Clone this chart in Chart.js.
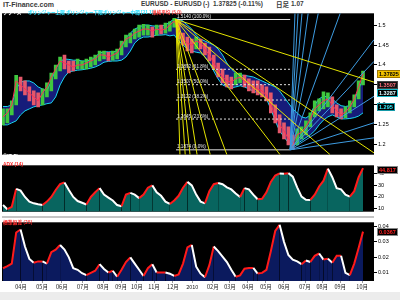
<!DOCTYPE html>
<html>
<head>
<meta charset="utf-8">
<script src="https://cdn.jsdelivr.net/npm/chart.js@4.4.0/dist/chart.umd.min.js"></script>
<style>
  body { margin: 0; background: #fff; width: 400px; height: 300px; overflow: hidden; }
  #wrap { position: relative; width: 400px; height: 300px; }
  canvas { position: absolute; left: 0; }
  .hd { position: absolute; top: 1px; white-space: pre; line-height: 1; font-family: "Liberation Sans", "DejaVu Sans", sans-serif; font-weight: bold; color: #3a3a3a; }
</style>
</head>
<body>
<div id="wrap">
  <div class="hd" style="left:3px;font-size:7px">IT-Finance.com</div>
  <div class="hd" style="left:141px;font-size:6.5px">EURUSD - EURUSD</div>
  <div class="hd" style="left:203px;font-size:6.5px">(-)</div>
  <div class="hd" style="left:213px;font-size:6.5px">1.37825 (-0.11%)</div>
  <div class="hd" style="left:276px;font-size:6.5px;font-family:'Noto Sans CJK JP'">日足</div>
  <div class="hd" style="left:291px;font-size:6.5px">1.07</div>
  <canvas id="priceChart" width="400" height="150" style="top:9px"></canvas>
  <canvas id="adxChart" width="400" height="55" style="top:161px"></canvas>
  <div style="position:absolute;left:2px;top:216px;width:372px;height:2px;background:#c4c4c4"></div>
  <canvas id="stdChart" width="400" height="73" style="top:218px"></canvas>
  <div style="position:absolute;left:0;top:292px;width:400px;height:8px;background:#ececec"></div>
</div>
<script>
// ===== 데이터 (주간, 2009-03 ~ 2010-10) =====
const closes = [
  1.27, 1.28, 1.30, 1.36, 1.35, 1.34, 1.33, 1.32, 1.31, 1.33,
  1.345, 1.37, 1.39, 1.41, 1.405, 1.40, 1.395, 1.40, 1.40, 1.405,
  1.41, 1.415, 1.425, 1.425, 1.42, 1.425, 1.43, 1.45, 1.465, 1.47,
  1.48, 1.485, 1.49, 1.49, 1.485, 1.49, 1.487, 1.49, 1.50, 1.51,
  1.49, 1.465, 1.455, 1.45, 1.46, 1.455, 1.44, 1.425, 1.405, 1.385,
  1.37, 1.36, 1.357, 1.366, 1.369, 1.36, 1.352, 1.345, 1.34, 1.335,
  1.325, 1.30, 1.274, 1.25, 1.235, 1.215, 1.205, 1.225, 1.232, 1.245,
  1.265, 1.29, 1.30, 1.31, 1.315, 1.30, 1.285, 1.275, 1.282, 1.295,
  1.315, 1.345, 1.378
];
const highs = [
  1.29, 1.29, 1.31, 1.374, 1.37, 1.36, 1.345, 1.335, 1.33, 1.34,
  1.355, 1.38, 1.40, 1.42, 1.425, 1.41, 1.41, 1.415, 1.41, 1.415,
  1.42, 1.425, 1.435, 1.435, 1.432, 1.435, 1.44, 1.46, 1.475, 1.48,
  1.49, 1.50, 1.502, 1.50, 1.495, 1.50, 1.50, 1.505, 1.508, 1.517,
  1.51, 1.48, 1.47, 1.465, 1.47, 1.465, 1.455, 1.445, 1.425, 1.405,
  1.39, 1.375, 1.37, 1.38, 1.38, 1.375, 1.365, 1.36, 1.36, 1.35,
  1.345, 1.33, 1.30, 1.275, 1.255, 1.245, 1.225, 1.24, 1.245, 1.26,
  1.28, 1.31, 1.315, 1.333, 1.33, 1.32, 1.30, 1.29, 1.295, 1.31,
  1.325, 1.36, 1.385
];
const lows = [
  1.25, 1.255, 1.275, 1.30, 1.335, 1.325, 1.31, 1.30, 1.295, 1.30,
  1.32, 1.335, 1.365, 1.385, 1.39, 1.38, 1.385, 1.39, 1.39, 1.39,
  1.395, 1.40, 1.41, 1.415, 1.41, 1.412, 1.415, 1.425, 1.445, 1.455,
  1.465, 1.47, 1.475, 1.475, 1.47, 1.475, 1.478, 1.48, 1.485, 1.495,
  1.465, 1.45, 1.435, 1.43, 1.44, 1.44, 1.425, 1.41, 1.39, 1.37,
  1.355, 1.345, 1.34, 1.35, 1.355, 1.345, 1.335, 1.33, 1.325, 1.32,
  1.31, 1.28, 1.255, 1.23, 1.215, 1.20, 1.188, 1.20, 1.215, 1.225,
  1.245, 1.27, 1.285, 1.29, 1.295, 1.28, 1.27, 1.265, 1.268, 1.28,
  1.295, 1.315, 1.35
];
const bbUpper = [
  1.296, 1.296, 1.30, 1.34, 1.357, 1.36, 1.36, 1.355, 1.345, 1.34,
  1.335, 1.36, 1.39, 1.409, 1.415, 1.414, 1.412, 1.412, 1.41, 1.41,
  1.412, 1.42, 1.43, 1.433, 1.433, 1.433, 1.435, 1.445, 1.468, 1.48,
  1.49, 1.495, 1.50, 1.50, 1.498, 1.497, 1.498, 1.50, 1.508, 1.515,
  1.515, 1.51, 1.50, 1.49, 1.475, 1.465, 1.46, 1.455, 1.45, 1.44,
  1.425, 1.405, 1.39, 1.38, 1.375, 1.374, 1.372, 1.37, 1.365, 1.36,
  1.355, 1.35, 1.345, 1.335, 1.32, 1.305, 1.29, 1.28, 1.27, 1.267,
  1.275, 1.30, 1.315, 1.322, 1.32, 1.315, 1.305, 1.298, 1.296, 1.298,
  1.31, 1.34, 1.365
];
const bbLower = [
  1.25, 1.25, 1.255, 1.26, 1.275, 1.285, 1.29, 1.295, 1.298, 1.30,
  1.303, 1.305, 1.32, 1.35, 1.37, 1.383, 1.385, 1.387, 1.388, 1.39,
  1.392, 1.395, 1.40, 1.407, 1.409, 1.41, 1.41, 1.412, 1.42, 1.435,
  1.455, 1.465, 1.47, 1.47, 1.472, 1.475, 1.475, 1.476, 1.473, 1.475,
  1.46, 1.45, 1.44, 1.435, 1.432, 1.43, 1.42, 1.405, 1.385, 1.365,
  1.35, 1.345, 1.343, 1.345, 1.348, 1.345, 1.34, 1.335, 1.33, 1.325,
  1.315, 1.29, 1.26, 1.235, 1.22, 1.205, 1.20, 1.203, 1.21, 1.218,
  1.225, 1.235, 1.25, 1.262, 1.27, 1.275, 1.27, 1.265, 1.265, 1.266,
  1.268, 1.272, 1.28
];
const adxValues = [
  13, 9.5, 11.5, 27, 25.5, 20, 16, 14.5, 13.7, 13,
  16, 20, 26, 31, 32.5, 26, 20, 16.5, 15, 13.5,
  20, 24, 27.6, 22, 19.5, 17, 13, 12, 22, 23.5,
  22, 19, 22, 28, 30, 24, 21, 16, 14, 17,
  21, 28, 33, 30, 22, 16, 14.5, 25, 31, 32,
  31, 28.3, 26.5, 23, 20, 27.6, 26.5, 22, 18, 18.5,
  24, 33, 38.5, 40.3, 40, 40.5, 37.5, 28.3, 20.3, 17.5,
  17.4, 22, 29, 34, 44.4, 37, 27.6, 26.5, 22, 20.3,
  25, 37, 44.8
];
const stdValues = [
  0.013, 0.0144, 0.016, 0.036, 0.038, 0.027, 0.019, 0.0165, 0.0174, 0.0174,
  0.016, 0.0234, 0.025, 0.028, 0.025, 0.02, 0.013, 0.012, 0.0098, 0.0086,
  0.01, 0.0114, 0.0156, 0.0125, 0.0102, 0.0114, 0.0075, 0.012, 0.017, 0.02,
  0.016, 0.012, 0.008, 0.013, 0.0156, 0.0102, 0.0102, 0.0102, 0.0095, 0.008,
  0.009, 0.016, 0.0264, 0.028, 0.014, 0.0095, 0.0072, 0.015, 0.027, 0.024,
  0.0205, 0.017, 0.012, 0.0075, 0.0084, 0.0127, 0.0132, 0.0132, 0.0096, 0.01,
  0.012, 0.024, 0.037, 0.041, 0.03, 0.0215, 0.0185, 0.0174, 0.0156, 0.018,
  0.017, 0.021, 0.0225, 0.0186, 0.0192, 0.0165, 0.021, 0.021, 0.01, 0.0085,
  0.016, 0.026, 0.0366
];

// x축 월 라벨 (주 단위 위치)
const monthTicks = [4.1, 8.9, 13.4, 18.2, 22.8, 26.9, 30.5, 34.4, 38.7, 43.1, 47.8, 51.7, 55.8, 59.9, 64.0, 68.8, 72.7, 76.8, 81.8];
const monthLabels = ['04月', '05月', '06月', '07月', '08月', '09月', '10月', '11月', '12月', '2010', '02月', '03月', '04月', '05月', '06月', '07月', '08月', '09月', '10月'];

// y축 눈금
const priceTicks = [1.2, 1.25, 1.3, 1.35, 1.4, 1.45, 1.5];
const adxTicks = [10, 20, 30, 40];
const stdTicks = [0.01, 0.02, 0.03, 0.04];

// 피보나치 되돌림
const fibLevels = [1.5140, 1.3892, 1.3507, 1.3122, 1.2645, 1.1874];
const fibPct = ['100.0%', '61.8%', '50.0%', '38.2%', '23.6%', '0.0%'];
const fibFromWeek = 39.4;
const fibToWeek = 65.4;

// 간 팬 (고점 / 저점에서 뻗는 선의 끝점: [주, 가격])
const yellowFanEnds = [[40.3, 1.1752], [41.5, 1.1752], [42.6, 1.1752], [44.2, 1.1752], [47.2, 1.1752],
  [51.0, 1.1752], [63.1, 1.1752], [74.5, 1.1752], [84.5, 1.1797], [84.5, 1.357]];
const blueFanEnds = [[66.5, 1.5295], [67.2, 1.5295], [68.1, 1.5295], [69.5, 1.5295], [71.8, 1.5295],
  [76.8, 1.5295], [84.5, 1.4634], [84.5, 1.409], [84.5, 1.3215], [84.5, 1.2553], [84.5, 1.2175]];

// 오른쪽 현재값 태그
const priceTagValues = [1.37825, 1.3507, 1.3287, 1.295];
const priceTagTexts = ['1.37825', '1.3507', '1.3287', '1.295'];
const adxTagValue = 44.817;
const stdTagValue = 0.0367;

// ===== 공통 설정 =====
const X_MIN = -0.23, X_MAX = 84.5;
const AXIS_FONT = '"Liberation Sans", "DejaVu Sans", sans-serif';
const JP_FONT = '"Noto Sans CJK JP", sans-serif';

// 차트 영역 검정 배경
const blackArea = {
  id: 'blackArea',
  beforeDraw(chart) {
    const { ctx, chartArea: a } = chart;
    ctx.save();
    ctx.fillStyle = '#000';
    ctx.fillRect(a.left, a.top, a.right - a.left, a.bottom - a.top);
    ctx.restore();
  }
};

// 패널 안의 글자 (범례 등)
const panelText = {
  id: 'panelText',
  afterDraw(chart, args, opts) {
    const ctx = chart.ctx;
    (opts.items || []).forEach(t => {
      ctx.save();
      ctx.font = t.font;
      ctx.fillStyle = t.color;
      ctx.textBaseline = 'middle';
      ctx.fillText(t.text, t.x, t.y);
      ctx.restore();
    });
  }
};

// 오른쪽 값 태그
const valueTags = {
  id: 'valueTags',
  afterDraw(chart, args, opts) {
    const items = opts.items || [];
    const { ctx, chartArea } = chart;
    const yScale = chart.scales.y;
    ctx.save();
    ctx.font = 'bold 5.5px ' + AXIS_FONT;
    ctx.textBaseline = 'middle';
    items.forEach(t => {
      const py = Math.round(yScale.getPixelForValue(t.value) + t.shift);
      const w = Math.ceil(ctx.measureText(t.text).width) + 4;
      const x0 = chartArea.right + 3;
      ctx.fillStyle = t.bg;
      ctx.fillRect(x0, py - 4, w, 8);
      ctx.strokeStyle = t.border;
      ctx.lineWidth = 1;
      ctx.strokeRect(x0 + 0.5, py - 3.5, w - 1, 7);
      ctx.fillStyle = t.fg;
      ctx.fillText(t.text, x0 + 2, py + 0.5);
    });
    ctx.restore();
  }
};

// 피보나치 라벨
const fibLabels = {
  id: 'fibLabels',
  afterDatasetsDraw(chart) {
    const { ctx } = chart;
    const xs = chart.scales.x, ys = chart.scales.y;
    ctx.save();
    ctx.font = '4.6px ' + AXIS_FONT;
    ctx.fillStyle = '#e8e8e8';
    ctx.textBaseline = 'bottom';
    fibLevels.forEach((lv, i) => {
      ctx.fillText(lv.toFixed(4) + ' (' + fibPct[i] + ')', xs.getPixelForValue(fibFromWeek) + 1, ys.getPixelForValue(lv) - 0.5);
    });
    ctx.restore();
  }
};

function xScale(show) {
  const s = {
    type: 'linear', min: X_MIN, max: X_MAX, offset: false, display: show,
    grid: { display: show, drawOnChartArea: false, drawTicks: true, tickLength: 2, color: '#999' },
    border: { display: false }
  };
  if (show) {
    s.afterBuildTicks = sc => { sc.ticks = monthTicks.map(v => ({ value: v })); };
    s.afterFit = sc => { sc.height = 10; };
    s.ticks = {
      autoSkip: false, maxRotation: 0, padding: 1, color: '#222',
      font: { size: 5.5, family: JP_FONT },
      callback: (v, i) => monthLabels[i]
    };
  }
  return s;
}

function yScale(min, max, tickVals, fmt) {
  return {
    position: 'right', min, max,
    afterBuildTicks: sc => { sc.ticks = tickVals.map(v => ({ value: v })); },
    afterFit: sc => { sc.width = 26; },
    grid: { display: true, drawOnChartArea: false, drawTicks: true, tickLength: 3, color: '#000' },
    border: { display: false },
    ticks: { padding: 1, color: '#000', font: { size: 5.5, family: AXIS_FONT }, callback: fmt }
  };
}

const basePlugins = { legend: { display: false }, tooltip: { enabled: false } };

// ===== 1. 가격 차트 =====
const upColor = '#3fc83f', downColor = '#e5576a';
const candleColors = closes.map((c, i) => (i === 0 || c >= closes[i - 1]) ? upColor : downColor);
const toXY = arr => arr.map((v, i) => ({ x: i, y: v }));

const priceDatasets = [];
yellowFanEnds.forEach(e => priceDatasets.push({
  type: 'line', data: [{ x: fibFromWeek, y: fibLevels[0] }, { x: e[0], y: e[1] }],
  borderColor: '#e4e400', borderWidth: 1, pointRadius: 0, order: 1
}));
blueFanEnds.forEach(e => priceDatasets.push({
  type: 'line', data: [{ x: fibToWeek, y: fibLevels[5] }, { x: e[0], y: e[1] }],
  borderColor: '#3d9be0', borderWidth: 1, pointRadius: 0, order: 1
}));
fibLevels.forEach((lv, i) => priceDatasets.push({
  type: 'line', data: [{ x: fibFromWeek, y: lv }, { x: fibToWeek, y: lv }],
  borderColor: '#e0e0e0', borderWidth: 1, pointRadius: 0, order: 2,
  borderDash: (i === 0 || i === fibLevels.length - 1) ? [] : [2, 2]
}));
priceDatasets.push({
  type: 'line', data: toXY(closes), borderColor: '#ff2d55', borderWidth: 1, pointRadius: 0, order: 3
});
priceDatasets.push({
  type: 'bar', data: highs.map((h, i) => ({ x: i, y: [lows[i], h] })),
  backgroundColor: candleColors, barThickness: 3, grouped: false, borderWidth: 0, order: 4
});
priceDatasets.push({
  type: 'line', data: toXY(bbUpper), borderColor: '#18d8f0', borderWidth: 1, pointRadius: 0, order: 5
});
priceDatasets.push({
  type: 'line', data: toXY(bbLower), borderColor: '#18d8f0', borderWidth: 1, pointRadius: 0,
  fill: '-1', backgroundColor: '#161c7a', order: 6
});

const tagStyles = [
  { bg: '#f2c200', fg: '#000', border: '#a07800', shift: 0 },
  { bg: '#111', fg: '#ff6f7a', border: '#444', shift: 0 },
  { bg: '#000', fg: '#dffcff', border: '#19b9c8', shift: 0 },
  { bg: '#000', fg: '#35f0ff', border: '#159aa8', shift: 0 }
];

new Chart(document.getElementById('priceChart'), {
  type: 'bar',
  data: { datasets: priceDatasets },
  options: {
    responsive: false, animation: false,
    layout: { padding: { left: 2, right: 0, top: 0, bottom: 0 } },
    scales: {
      x: xScale(false),
      y: yScale(1.1752, 1.5295, priceTicks, v => String(Number(v.toFixed(2))))
    },
    plugins: {
      ...basePlugins,
      valueTags: { items: priceTagValues.map((v, i) => ({ value: v, text: priceTagTexts[i], ...tagStyles[i] })) },
      panelText: {
        items: [
          { text: 'プライス', x: 3, y: 3.5, color: '#ffffff', font: 'bold 4.6px ' + JP_FONT },
          { text: 'ボリンジャー上限', x: 28, y: 3.5, color: '#22e0ff', font: 'bold 4.6px ' + JP_FONT },
          { text: 'ボリンジャー下限', x: 66, y: 3.5, color: '#22e0ff', font: 'bold 4.6px ' + JP_FONT },
          { text: 'ボリンジャー中間 [21 1]', x: 103, y: 3.5, color: '#22e0ff', font: 'bold 4.6px ' + JP_FONT },
          { text: '単純平均 (5,0)', x: 152, y: 3.5, color: '#ff3a3a', font: 'bold 4.6px ' + JP_FONT },
          { text: '©IT-Finance.com', x: 3, y: 147.5, color: '#ffffff', font: 'bold 5.5px ' + AXIS_FONT }
        ]
      }
    }
  },
  plugins: [blackArea, fibLabels, valueTags, panelText]
});

// ===== 2. ADX =====
const trendColor = c => c.p1.parsed.y >= c.p0.parsed.y ? '#ff1a1a' : '#ffffff';

new Chart(document.getElementById('adxChart'), {
  type: 'line',
  data: {
    datasets: [{
      data: toXY(adxValues), borderWidth: 2, pointRadius: 0,
      borderColor: '#ffffff', segment: { borderColor: trendColor },
      fill: 'start', backgroundColor: '#08655f'
    }]
  },
  options: {
    responsive: false, animation: false,
    layout: { padding: { left: 2, right: 0, top: 0, bottom: 0 } },
    scales: { x: xScale(false), y: yScale(7.31, 47.26, adxTicks, v => String(v)) },
    plugins: {
      ...basePlugins,
      valueTags: { items: [{ value: adxTagValue, text: '44.817', bg: '#000', fg: '#ff2020', border: '#888', shift: 2 }] },
      panelText: { items: [{ text: 'ADX (14)', x: 3, y: 4, color: '#ff2a2a', font: 'bold 4.8px ' + AXIS_FONT }] }
    }
  },
  plugins: [blackArea, valueTags, panelText]
});

// ===== 3. 표준편차 =====
new Chart(document.getElementById('stdChart'), {
  type: 'line',
  data: {
    datasets: [{
      data: toXY(stdValues), borderWidth: 2, pointRadius: 0,
      borderColor: '#ffffff', segment: { borderColor: trendColor },
      fill: 'start', backgroundColor: '#0b1a5e'
    }]
  },
  options: {
    responsive: false, animation: false,
    layout: { padding: { left: 2, right: 0, top: 0, bottom: 0 } },
    scales: { x: xScale(true), y: yScale(0.00477, 0.04261, stdTicks, v => v.toFixed(2)) },
    plugins: {
      ...basePlugins,
      valueTags: { items: [{ value: stdTagValue, text: '0.0367', bg: '#000', fg: '#ff2020', border: '#888', shift: 1 }] },
      panelText: { items: [{ text: '標準偏差 (25)', x: 3, y: 4, color: '#ff2a2a', font: 'bold 4.8px ' + JP_FONT }] }
    }
  },
  plugins: [blackArea, valueTags, panelText]
});
</script>
</body>
</html>
